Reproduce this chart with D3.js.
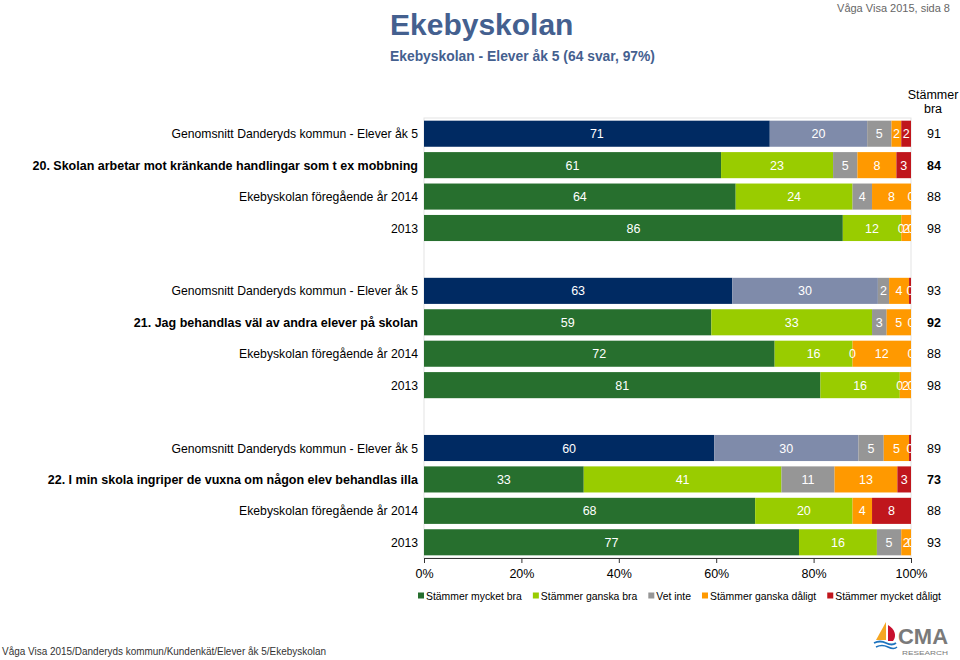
<!DOCTYPE html>
<html>
<head>
<meta charset="utf-8">
<script src="https://cdn.jsdelivr.net/npm/d3@7"></script>
<style>
  html, body { margin: 0; padding: 0; background: #fff; }
  svg { display: block; font-family: "Liberation Sans", Arial, sans-serif; }
</style>
</head>
<body>
<svg id="chart" width="960" height="660"></svg>
<script>
// ---------- data ----------
const categories = ["Stämmer mycket bra", "Stämmer ganska bra", "Vet inte", "Stämmer ganska dåligt", "Stämmer mycket dåligt"];

const rowLabels = [
  "Genomsnitt Danderyds kommun - Elever åk 5",
  "20. Skolan arbetar mot kränkande handlingar som t ex mobbning",
  "Ekebyskolan föregående år 2014",
  "2013",
  "Genomsnitt Danderyds kommun - Elever åk 5",
  "21. Jag behandlas väl av andra elever på skolan",
  "Ekebyskolan föregående år 2014",
  "2013",
  "Genomsnitt Danderyds kommun - Elever åk 5",
  "22. I min skola ingriper de vuxna om någon elev behandlas illa",
  "Ekebyskolan föregående år 2014",
  "2013"
];
const rowKinds = ["avg", "q", "prev", "prev", "avg", "q", "prev", "prev", "avg", "q", "prev", "prev"];
const groupOf = [0, 0, 0, 0, 1, 1, 1, 1, 2, 2, 2, 2];

const mycketBra   = [71, 61, 64, 86, 63.3, 59, 72, 81.4, 59.6, 32.8, 68, 77];
const ganskaBra   = [20, 23, 24, 12, 29.9, 33, 16, 16.3, 29.6, 40.6, 20, 16];
const vetInte     = [5, 5, 4, 0, 2.3, 3, 0, 0, 5.2, 10.9, null, 5];
const ganskaDalig = [2, 8, 8, 2, 4.1, 5, 12, 2.3, 5.2, 12.9, 4, 2];
const mycketDalig = [2, 3, 0, 0, 0.4, 0, 0, 0, 0.4, 2.8, 8, 0];

const stammerBra = [91, 84, 88, 98, 93, 92, 88, 98, 89, 73, 88, 93];

const xTicks = [0, 20, 40, 60, 80, 100];

// ---------- styles ----------
const colorsMain = ["#276F2E", "#99CC00", "#969696", "#FF9900", "#C0161C"];
const colorsAvg  = ["#002A62", "#7F8BAA", "#969696", "#FF9900", "#C0161C"];

const svg = d3.select("#chart");

// slots: 4 rows, gap, 4 rows, gap, 4 rows
const slots = [];
rowLabels.forEach((d, i) => {
  if (i > 0 && groupOf[i] !== groupOf[i - 1]) slots.push("gap" + i);
  slots.push("r" + i);
});

const x = d3.scaleLinear().domain([0, 100]).range([424, 911]);
const y = d3.scaleBand().domain(slots).range([118, 558]).paddingInner(0.17).paddingOuter(0.085);

// ---------- titles ----------
svg.append("text").attr("x", 390).attr("y", 35)
  .attr("font-size", 30).attr("font-weight", "bold").attr("fill", "#44608F")
  .text("Ekebyskolan");
svg.append("text").attr("x", 390).attr("y", 61)
  .attr("font-size", 15.5).attr("font-weight", "bold").attr("fill", "#44608F")
  .attr("textLength", 265).attr("lengthAdjust", "spacingAndGlyphs")
  .text("Ekebyskolan - Elever åk 5 (64 svar, 97%)");
svg.append("text").attr("x", 950).attr("y", 12).attr("text-anchor", "end")
  .attr("font-size", 11).attr("fill", "#666")
  .text("Våga Visa 2015, sida 8");

// ---------- plot frame ----------
svg.append("rect").attr("x", x(0)).attr("y", 118).attr("width", x(100) - x(0)).attr("height", 440)
  .attr("fill", "none").attr("stroke", "#e3e3e3").attr("stroke-width", 1);

svg.append("defs").append("clipPath").attr("id", "plotclip")
  .append("rect").attr("x", x(0)).attr("y", 100).attr("width", x(100) - x(0)).attr("height", 470);

// ---------- bars ----------
const series = [mycketBra, ganskaBra, vetInte, ganskaDalig, mycketDalig];
const rows = rowLabels.map((label, i) => {
  let acc = 0;
  const segs = series.map((s, k) => {
    const v = s[i];
    const seg = { k, v: v == null ? 0 : v, shown: v != null, x0: acc };
    acc += seg.v;
    seg.x1 = acc;
    return seg;
  });
  return { i, label, kind: rowKinds[i], segs };
});

const plot = svg.append("g").attr("clip-path", "url(#plotclip)");

rows.forEach(r => {
  const g = plot.append("g");
  const yy = y("r" + r.i);
  const bh = y.bandwidth();
  const cols = r.kind === "avg" ? colorsAvg : colorsMain;
  g.selectAll("rect").data(r.segs.filter(s => s.v > 0)).join("rect")
    .attr("x", s => x(s.x0)).attr("y", yy)
    .attr("width", s => x(s.x1) - x(s.x0)).attr("height", bh)
    .attr("fill", s => cols[s.k]);
  g.selectAll("text").data(r.segs.filter(s => s.shown)).join("text")
    .attr("x", s => (x(s.x0) + x(s.x1)) / 2)
    .attr("y", yy + bh / 2 + 4.5)
    .attr("text-anchor", "middle")
    .attr("font-size", 12.5).attr("fill", "#fff")
    .text(s => Math.round(s.v));
});

// ---------- row labels ----------
svg.append("g").selectAll("text").data(rows).join("text")
  .attr("x", 418).attr("y", r => y("r" + r.i) + y.bandwidth() / 2 + 4.5)
  .attr("text-anchor", "end")
  .attr("font-size", r => r.kind === "q" ? 12.5 : 12.2)
  .attr("font-weight", r => r.kind === "q" ? "bold" : "normal")
  .attr("fill", "#000")
  .text(r => r.label);

// ---------- Stämmer bra column ----------
svg.append("text").attr("x", 933).attr("y", 99).attr("text-anchor", "middle")
  .attr("font-size", 12.5).text("Stämmer");
svg.append("text").attr("x", 933).attr("y", 113).attr("text-anchor", "middle")
  .attr("font-size", 12.5).text("bra");
svg.append("g").selectAll("text").data(rows).join("text")
  .attr("x", 934).attr("y", r => y("r" + r.i) + y.bandwidth() / 2 + 4.5)
  .attr("text-anchor", "middle").attr("font-size", 12.5)
  .attr("font-weight", r => r.kind === "q" ? "bold" : "normal")
  .text(r => stammerBra[r.i]);

// ---------- x axis ----------
const axis = svg.append("g").attr("transform", "translate(0,558)")
  .call(d3.axisBottom(x).tickValues(xTicks).tickSize(5).tickSizeOuter(0).tickFormat(d => d + "%"));
axis.select(".domain").attr("stroke", "#333");
axis.selectAll(".tick line").attr("stroke", "#333");
axis.selectAll(".tick text").attr("font-size", 12.5).attr("fill", "#000")
  .attr("font-family", "Liberation Sans, Arial, sans-serif").attr("dy", "0.95em");

// ---------- legend ----------
const legend = svg.append("g").attr("transform", "translate(418,596)");
let lx = 0;
categories.forEach((c, k) => {
  legend.append("rect").attr("x", lx).attr("y", -3.5).attr("width", 6).attr("height", 6).attr("fill", colorsMain[k]);
  const t = legend.append("text").attr("x", lx + 8).attr("y", 3.5).attr("font-size", 10.4).attr("fill", "#000").text(c);
  lx += 8 + t.node().getComputedTextLength() + 11;
});

// ---------- footer ----------
svg.append("text").attr("x", 2).attr("y", 655).attr("font-size", 10.5).attr("fill", "#333")
  .attr("font-family", "Liberation Sans Narrow, Liberation Sans, Arial, sans-serif")
  .attr("textLength", 324).attr("lengthAdjust", "spacingAndGlyphs")
  .text("Våga Visa 2015/Danderyds kommun/Kundenkät/Elever åk 5/Ekebyskolan");

// logo
const logo = svg.append("g").attr("transform", "translate(872,620)");
logo.append("path").attr("d", "M14,2 L4,20 L14,20 Z").attr("fill", "#F5A623");
logo.append("path").attr("d", "M16,5 C23,9 25,16 21,21 L16,21 Z").attr("fill", "#C8102E");
logo.append("path").attr("d", "M2,23 Q8,20 14,23 T24,23").attr("fill", "none").attr("stroke", "#1E73BE").attr("stroke-width", 1.8);
logo.append("path").attr("d", "M4,27 Q10,24 16,27 T25,27").attr("fill", "none").attr("stroke", "#1E73BE").attr("stroke-width", 1.4);
logo.append("text").attr("x", 26).attr("y", 24).attr("font-size", 22).attr("font-weight", "bold")
  .attr("fill", "#7a7a7a").attr("textLength", 50).attr("lengthAdjust", "spacingAndGlyphs").text("CMA");
logo.append("text").attr("x", 30).attr("y", 35).attr("font-size", 5.5).attr("fill", "#7a7a7a")
  .attr("textLength", 46).attr("lengthAdjust", "spacingAndGlyphs").text("RESEARCH");
</script>
</body>
</html>
